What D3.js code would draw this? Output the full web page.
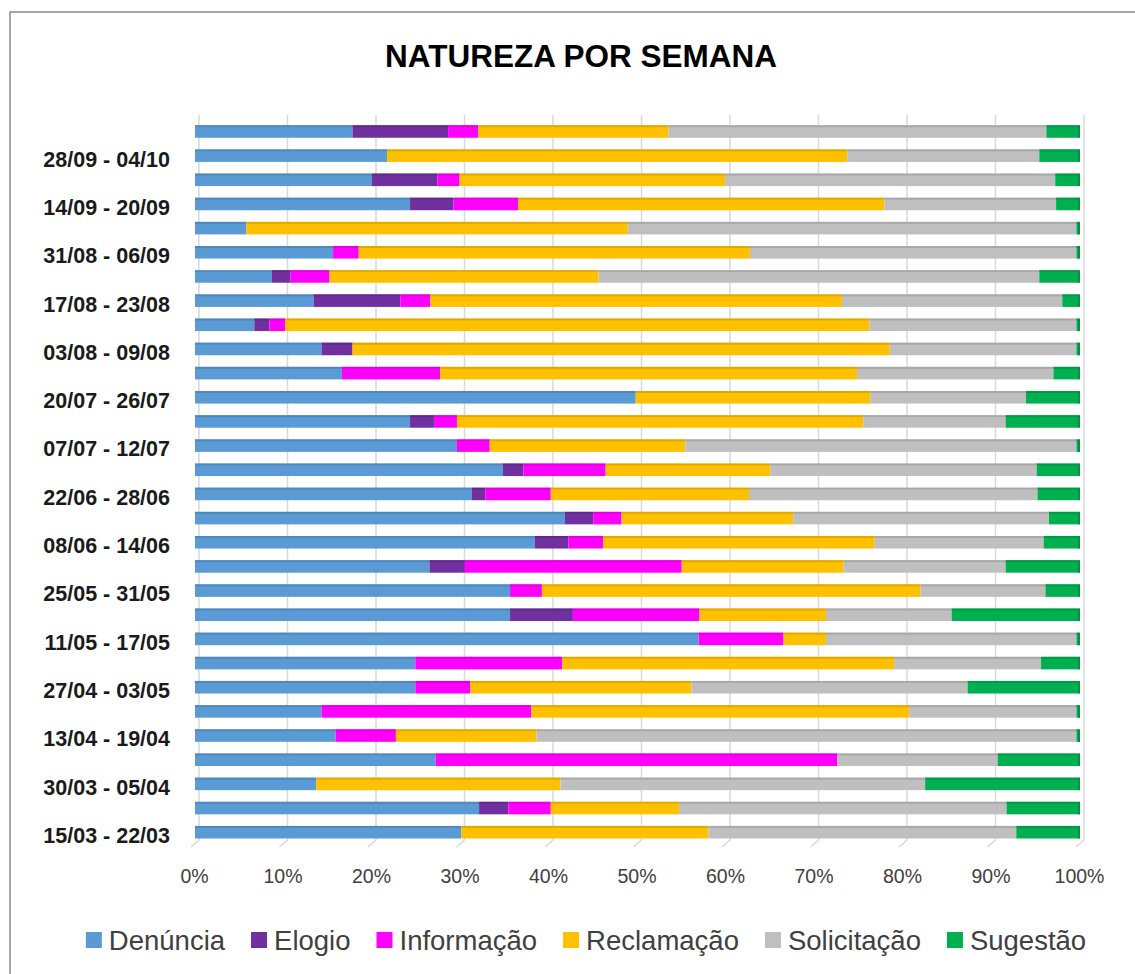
<!DOCTYPE html>
<html>
<head>
<meta charset="utf-8">
<script src="https://cdn.jsdelivr.net/npm/d3@7"></script>
<style>
  html, body { margin: 0; padding: 0; background: #fff; }
  svg { display: block; }
</style>
</head>
<body>
<svg id="chart" width="1135" height="974"></svg>
<script>
// ---- DATA (chronological order: bottom bar first) ----
const categories = [
  "15/03 - 22/03", "23/03 - 29/03", "30/03 - 05/04", "06/04 - 12/04", "13/04 - 19/04",
  "20/04 - 26/04", "27/04 - 03/05", "04/05 - 10/05", "11/05 - 17/05", "18/05 - 24/05",
  "25/05 - 31/05", "01/06 - 07/06", "08/06 - 14/06", "15/06 - 21/06", "22/06 - 28/06",
  "29/06 - 06/07", "07/07 - 12/07", "13/07 - 19/07", "20/07 - 26/07", "27/07 - 02/08",
  "03/08 - 09/08", "10/08 - 16/08", "17/08 - 23/08", "24/08 - 30/08", "31/08 - 06/09",
  "07/09 - 13/09", "14/09 - 20/09", "21/09 - 27/09", "28/09 - 04/10", "05/10 - 11/10"
];
const seriesNames = ["Denúncia", "Elogio", "Informação", "Reclamação", "Solicitação", "Sugestão"];
const denuncia    = [30.1, 32.1, 13.7, 27.2, 15.9, 14.3, 24.9, 24.9, 56.9, 35.6, 35.6, 26.5, 38.4, 41.8, 31.3, 34.8, 29.6, 24.3, 49.8, 16.6, 14.3, 6.7, 13.4, 8.7, 15.6, 5.8, 24.3, 20.0, 21.7, 17.8];
const elogio      = [0, 3.3, 0, 0, 0, 0, 0, 0, 0, 7.1, 0, 4.0, 3.8, 3.2, 1.5, 2.3, 0, 2.7, 0, 0, 3.5, 1.7, 9.8, 2.1, 0, 0, 4.9, 7.4, 0, 10.8];
const informacao  = [0, 4.8, 0, 45.4, 6.8, 23.7, 6.2, 16.6, 9.6, 14.3, 3.6, 24.5, 3.9, 3.2, 7.4, 9.3, 3.7, 2.6, 0, 11.1, 0, 1.8, 3.4, 4.4, 2.9, 0, 7.3, 2.5, 0, 3.4];
const reclamacao  = [27.9, 14.5, 27.6, 0, 15.9, 42.7, 25.0, 37.5, 4.8, 14.3, 42.8, 18.3, 30.7, 19.4, 22.4, 18.6, 22.1, 45.9, 26.5, 47.1, 60.7, 66.0, 46.5, 30.4, 44.2, 43.1, 41.4, 30.0, 52.0, 21.5];
const solicitacao = [34.8, 37.0, 41.2, 18.1, 61.0, 18.9, 31.2, 16.6, 28.3, 14.2, 14.1, 18.3, 19.1, 28.9, 32.6, 30.1, 44.2, 16.1, 17.6, 22.2, 21.1, 23.4, 24.9, 49.8, 36.9, 50.7, 19.4, 37.3, 21.7, 42.7];
const sugestao    = [7.2, 8.3, 17.5, 9.3, 0.4, 0.4, 12.7, 4.4, 0.4, 14.5, 3.9, 8.4, 4.1, 3.5, 4.8, 4.9, 0.4, 8.4, 6.1, 3.0, 0.4, 0.4, 2.0, 4.6, 0.4, 0.4, 2.7, 2.8, 4.6, 3.8];
const tickValues  = [0, 0.1, 0.2, 0.3, 0.4, 0.5, 0.6, 0.7, 0.8, 0.9, 1.0];
const colors      = ["#5B9BD5", "#7030A0", "#FF00FF", "#FFC000", "#BFBFBF", "#00B050"];

// ---- build table ----
const seriesValues = [denuncia, elogio, informacao, reclamacao, solicitacao, sugestao];
const table = categories.map((c, i) => {
  const row = { cat: c };
  seriesNames.forEach((s, k) => row[s] = seriesValues[k][i]);
  return row;
});
const stacked = d3.stack().keys(seriesNames).offset(d3.stackOffsetExpand)(table);

const svg = d3.select("#chart");
const FONT = "'Liberation Sans', Arial, sans-serif";

// frame
svg.append("rect").attr("x", 10).attr("y", 12).attr("width", 1200).attr("height", 1100)
  .attr("fill", "#fff").attr("stroke", "#8a8a8a").attr("stroke-width", 1.5);

// title
svg.append("text").attr("x", 581).attr("y", 67).attr("text-anchor", "middle")
  .attr("font-family", FONT).attr("font-weight", "bold").attr("font-size", 31.5)
  .attr("fill", "#000").text("NATUREZA POR SEMANA");

// scales
const x = d3.scaleLinear().domain([0, 1]).range([195, 1080]);
const y = d3.scaleBand().domain(categories).range([844.3, 119.4])
  .paddingInner(0.48).paddingOuter(0.24);

// gridlines (3D floor offset)
const grid = svg.append("g");
tickValues.forEach(v => {
  const gx = x(v) + 4;
  grid.append("path")
    .attr("d", `M${gx},115 L${gx},840 L${gx - 8},847`)
    .attr("fill", "none").attr("stroke", "#d9d9d9").attr("stroke-width", 1.5);
});

// bars
const bars = svg.append("g");
stacked.forEach((layer, k) => {
  const g = bars.append("g");
  const base = d3.color(colors[k]);
  const dark = base.darker(0.7).formatHex();
  layer.forEach(d => {
    const w = x(d[1]) - x(d[0]);
    if (w <= 0) return;
    const yy = y(d.data.cat);
    g.append("rect").attr("x", x(d[0])).attr("y", yy).attr("width", w)
      .attr("height", y.bandwidth()).attr("fill", colors[k]);
    g.append("rect").attr("x", x(d[0])).attr("y", yy).attr("width", w)
      .attr("height", 2).attr("fill", dark).attr("opacity", 0.55);
    if (k === seriesNames.length - 1) {
      g.append("rect").attr("x", x(d[1]) - 2).attr("y", yy + 1).attr("width", 2)
        .attr("height", y.bandwidth() - 1).attr("fill", dark).attr("opacity", 0.8);
    }
  });
});

// y axis labels (every other category)
const yAxis = d3.axisLeft(y).tickSize(0).tickPadding(0)
  .tickFormat((d, i) => i % 2 === 0 ? d : "");
const yg = svg.append("g").attr("transform", "translate(170,4)").call(yAxis);
yg.select(".domain").remove();
yg.selectAll("text").attr("font-family", FONT).attr("font-weight", "bold")
  .attr("font-size", 21.5).attr("fill", "#1a1a1a");

// x axis labels
const xAxis = d3.axisBottom(x).tickValues(tickValues).tickSize(0).tickPadding(0)
  .tickFormat(d3.format(".0%"));
const xg = svg.append("g").attr("transform", "translate(-1,869)").call(xAxis);
xg.select(".domain").remove();
xg.selectAll("text").attr("font-family", FONT).attr("font-size", 19.5).attr("fill", "#404040");

// legend
const legend = svg.append("g");
const items = [];
let cx = 0;
seriesNames.forEach((s, k) => {
  const it = legend.append("g");
  it.append("rect").attr("x", 0).attr("y", -8).attr("width", 16).attr("height", 16).attr("fill", colors[k]);
  const t = it.append("text").attr("x", 23).attr("y", 0).attr("dy", "0.35em")
    .attr("font-family", FONT).attr("font-size", 27.5).attr("fill", "#404040").text(s);
  const tw = t.node().getComputedTextLength();
  items.push({ g: it, x: cx });
  cx += 23 + tw + 26;
});
const totalW = cx - 26;
const startX = 586 - totalW / 2;
items.forEach(o => o.g.attr("transform", `translate(${startX + o.x},940)`));
</script>
</body>
</html>
